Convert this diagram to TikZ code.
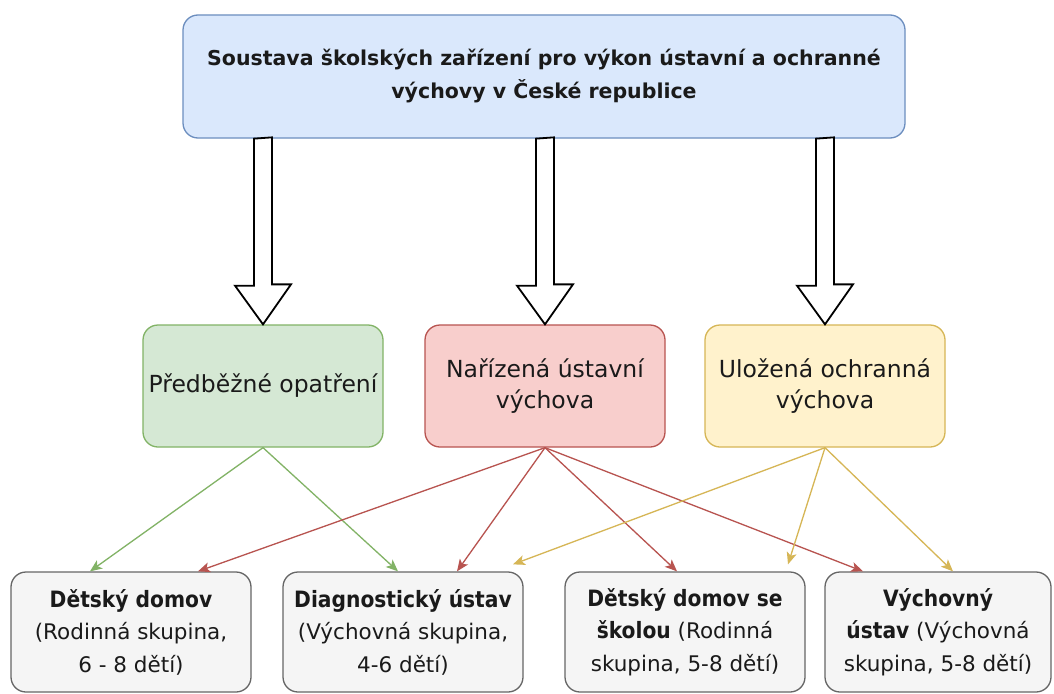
\documentclass[tikz,border=0pt]{standalone}
\usepackage{fontspec}
\setmainfont{DejaVu Sans}
\newfontface\cbf{DejaVu Sans Condensed Bold}
\usetikzlibrary{arrows.meta,calc}
\definecolor{topfill}{HTML}{DAE8FC}
\definecolor{topline}{HTML}{6C8EBF}
\definecolor{gfill}{HTML}{D5E8D4}
\definecolor{gline}{HTML}{82B366}
\definecolor{rfill}{HTML}{F8CECC}
\definecolor{rline}{HTML}{B85450}
\definecolor{yfill}{HTML}{FFF2CC}
\definecolor{yline}{HTML}{D6B656}
\definecolor{bfill}{HTML}{F5F5F5}
\definecolor{bline}{HTML}{666666}
\definecolor{txt}{HTML}{1A1A1A}
\newcommand{\bb}[1]{{\fontsize{22.5}{32.5}\cbf #1}}
\tikzset{
  box/.style={draw, rounded corners=15pt, line width=1.3pt, align=center, inner sep=0pt, text=txt},
  topbox/.style={box, fill=topfill, draw=topline, minimum width=722pt, minimum height=123pt,
     font=\fontsize{20.5}{33}\selectfont\bfseries},
  midbox/.style={box, minimum width=240pt, minimum height=122pt, font=\fontsize{23.5}{31}\selectfont},
  botbox/.style={box, fill=bfill, draw=bline, minimum height=120pt, font=\fontsize{21.5}{32.5}\selectfont},
  blockarrow/.style={draw=black, fill=white, line width=1.8pt, line join=miter},
  conn/.style={line width=1.3pt, -{Stealth[length=12pt,width=10pt,inset=3pt]}},
}
\begin{document}
\begin{tikzpicture}[x=1pt,y=-1pt]
\useasboundingbox (0,0) rectangle (1054,693);
\fill[white] (0,0) rectangle (1054,693);

\node[topbox] (top) at (544,76.5) {Soustava školských zařízení pro výkon ústavní a ochranné\\výchovy v České republice};

\node[midbox, fill=gfill, draw=gline] (g) at (263,386) {Předběžné opatření};
\node[midbox, fill=rfill, draw=rline] (r) at (545,386) {Nařízená ústavní\\výchova};
\node[midbox, fill=yfill, draw=yline] (y) at (825,386) {Uložená ochranná\\výchova};

\node[botbox, minimum width=240pt] (b1) at (131,632) {\bb{Dětský domov}\\(Rodinná skupina,\\6 - 8 dětí)};
\node[botbox, minimum width=240pt] (b2) at (403,632) {\bb{Diagnostický ústav}\\(Výchovná skupina,\\4-6 dětí)};
\node[botbox, minimum width=240pt] (b3) at (685,632) {\bb{Dětský domov se}\\\bb{školou} (Rodinná\\skupina, 5-8 dětí)};
\node[botbox, minimum width=226pt] (b4) at (938,632) {\bb{Výchovný}\\\bb{ústav} (Výchovná\\skupina, 5-8 dětí)};

% block arrows
\foreach \n in {g,r,y}{
  \draw[blockarrow] (top.south -| \n.north) ++(-9,0) -- ++(0,147) -- ++(-19,0) -- (\n.north)
     -- ++(28,-40) -- ++(-19,0) -- ++(0,-147) -- cycle;
}

% connectors
\coordinate (g1) at ($(b1.north)+(-41,0)$);
\coordinate (g2) at ($(b2.north)+(-5,0)$);
\coordinate (r1) at ($(b1.north)+(67,0)$);
\coordinate (r2) at ($(b2.north)+(54,0)$);
\coordinate (r3) at ($(b3.north)+(-8,0)$);
\coordinate (r4) at ($(b4.north)+(-75,0)$);
\coordinate (y2) at ($(b2.north)+(110,-7)$);
\coordinate (y3) at ($(b3.north)+(103,-7)$);
\coordinate (y4) at ($(b4.north)+(15,0)$);

\draw[conn, draw=gline, fill=gline] (g.south) -- (g1);
\draw[conn, draw=gline, fill=gline] (g.south) -- (g2);
\draw[conn, draw=rline, fill=rline] (r.south) -- (r1);
\draw[conn, draw=rline, fill=rline] (r.south) -- (r2);
\draw[conn, draw=rline, fill=rline] (r.south) -- (r3);
\draw[conn, draw=rline, fill=rline] (r.south) -- (r4);
\draw[conn, draw=yline, fill=yline] (y.south) -- (y2);
\draw[conn, draw=yline, fill=yline] (y.south) -- (y3);
\draw[conn, draw=yline, fill=yline] (y.south) -- (y4);
\end{tikzpicture}
\end{document}
